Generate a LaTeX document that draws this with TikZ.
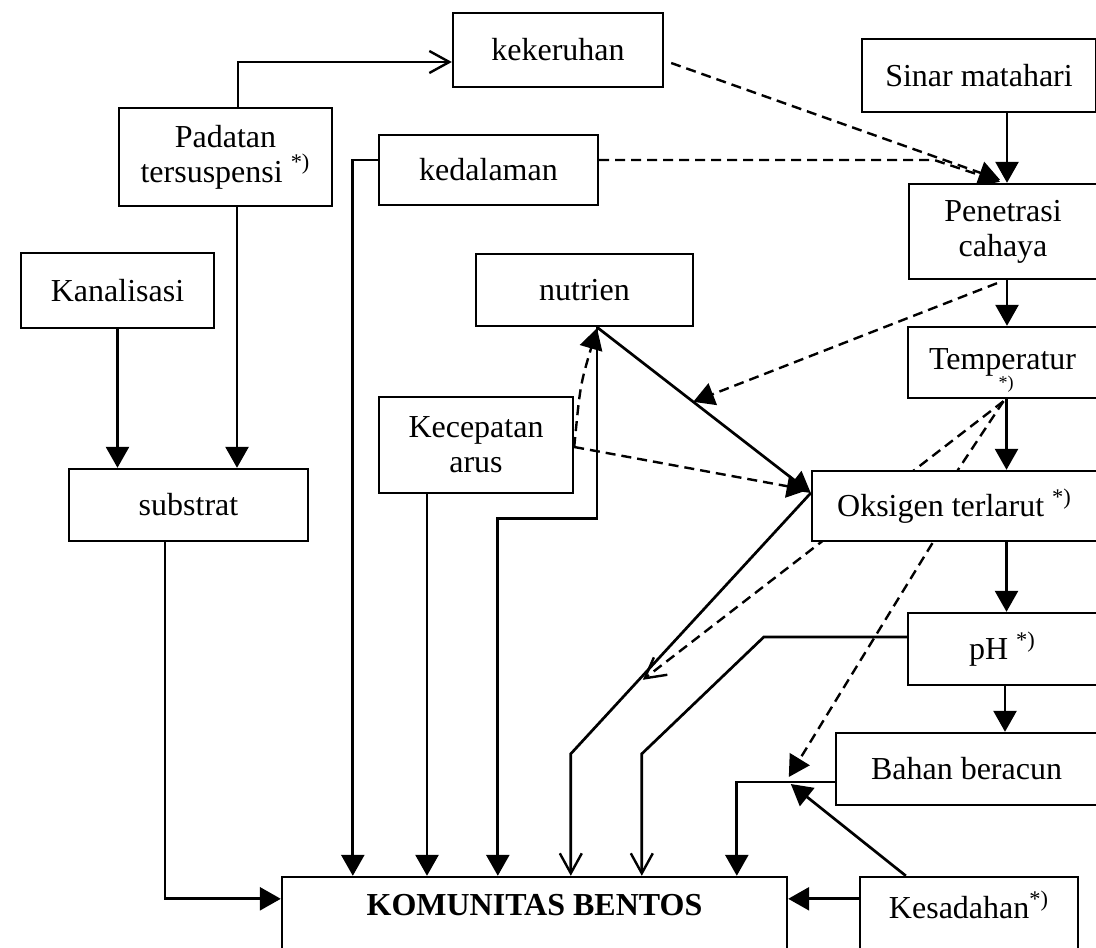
\documentclass[tikz,border=0pt]{standalone}
\usepackage{fontspec}
\setmainfont{Liberation Serif}
\usetikzlibrary{arrows.meta,calc,backgrounds}
\begin{document}
\begin{tikzpicture}[x=0.5pt,y=-0.5pt,
  txt/.style={font=\fontsize{16}{17.5}\selectfont, align=center, inner sep=0pt},
  box/.style={txt, draw, line width=1.2pt, fill=white},
  conn/.style={line width=1.35pt},
  dsh/.style={line width=1.2pt, dash pattern=on 5pt off 3pt},
  fa/.style={-{Triangle[length=10.5pt,width=11.5pt]}},
  oa/.style={-{Straight Barb[length=10pt,width=11pt,line width=1.2pt]}}]
\useasboundingbox (0,0) rectangle (1096,947);

% boxes
\node[box, minimum width=105pt, minimum height=37pt] (kek) at (558,50) {kekeruhan};
\node[box, minimum width=117pt, minimum height=36.5pt] (sinar) at (979,75.5) {Sinar matahari};
\node[box, minimum width=106.5pt, minimum height=49pt] (pad) at (225.5,157) {Padatan\\tersuspensi \textsuperscript{*)}};
\node[box, minimum width=109.5pt, minimum height=35pt] (ked) at (488.5,170) {kedalaman};
\node[box, minimum width=94pt, minimum height=47.5pt] (pen) at (1003,231.5) {Penetrasi\\cahaya};
\node[box, minimum width=96.5pt, minimum height=37.5pt] (kan) at (117.5,290.5) {Kanalisasi};
\node[box, minimum width=108.5pt, minimum height=36pt] (nut) at (584.5,290) {nutrien};
\node[box, minimum width=97pt, minimum height=48pt] (kec) at (476,445) {Kecepatan\\arus};
\node[box, minimum width=119.5pt, minimum height=36pt] (sub) at (188.5,505) {substrat};
\node[box, minimum width=94.5pt, minimum height=35.5pt] (temp) at (1002.5,362.5) {Temperatur};
\node[txt, font=\fontsize{9}{9}\selectfont] (tempst) at (1006,384) {*)};
\node[box, minimum width=142.5pt, minimum height=35pt] (oks) at (954.5,506) {Oksigen terlarut \textsuperscript{*)}};
\node[box, minimum width=94.5pt, minimum height=36pt] (ph) at (1002.5,649) {pH \textsuperscript{*)}};
\node[box, minimum width=130.5pt, minimum height=36pt] (bah) at (966.5,769) {Bahan beracun};
\node[box, minimum width=109pt, minimum height=51.5pt] (kes) at (969,928.5) {};
\node[txt] (kestxt) at (969,905) {Kesadahan\textsuperscript{*)}};
\node[box, minimum width=252.5pt, minimum height=51.5pt] (kom) at (534.5,928.5) {};
\node[txt, font=\fontsize{16}{17.5}\selectfont\bfseries] (komtxt) at (534.5,905) {KOMUNITAS BENTOS};

\begin{scope}[on background layer]
% top left
\draw[conn,oa] ($(pad.north)+(12.5,0)$) |- ($(kek.west)+(0,12)$);
\draw[conn,fa] (pad.south) ++(11.5,0) coordinate (a1) -- (a1 |- sub.north);
\draw[conn,fa] (kan.south) -- (kan.south |- sub.north);
\draw[conn,fa] ($(sub.south)+(-23.5,0)$) |- ($(kom.north west)+(0,23)$);
\draw[conn,fa] ($(ked.west)+(0,-10)$) -| ($(kom.north west)+(72,0)$);
\draw[conn,fa] (kec.south) ++(-49,0) coordinate (a2) -- (a2 |- kom.north);
\draw[conn,fa] ($(nut.south)+(12.5,0)$) -- ++(0,191) -| ($(kom.north west)+(217,0)$);
% nutrien / kecepatan / oksigen
\draw[dsh,fa] ($(kec.east)+(0,2)$) .. controls ($(kec.east)+(6,-60)$) .. ($(nut.south)+(12.5,1)$);
\draw[conn,fa] ($(nut.south)+(12.5,0)$) -- ($(oks.west)+(0,-13)$);
\draw[dsh,fa] ($(kec.east)+(0,2)$) -- ($(oks.west)+(-3,-16)$);
\draw[conn,oa] ($(oks.west)+(0,-13)$) -- ($(kom.north west)+(290,-122)$) -- ($(kom.north west)+(290,0)$);
% light
\draw[dsh,fa] ($(kek.east)+(7,13)$) -- ($(pen.north)+(-3,-3)$);
\draw[dsh,fa] ($(ked.east)+(0,-10)$) -- ++(335,0) -- ($(pen.north)+(-3,-1)$);
\draw[conn,fa] (sinar.south) ++(28,0) coordinate (s1) -- (s1 |- pen.north);
\draw[conn,fa] (pen.south) ++(4,0) coordinate (s2) -- (s2 |- temp.north);
\draw[dsh,fa] ($(pen.south)+(-6,3)$) -- ($($(nut.south)+(12.5,0)$)!0.45!($(oks.west)+(0,-13)$)$);
% right column
\draw[conn,fa] (temp.south) ++(4,0) coordinate (s3) -- (s3 |- oks.north);
\draw[conn,fa] (oks.south) ++(52,0) coordinate (s4) -- (s4 |- ph.north);
\draw[conn,fa] (ph.south) ++(2.5,0) coordinate (s5) -- (s5 |- bah.north);
\draw[dsh,oa] ($(temp.south)+(1,2)$) -- ($(kom.north west)+(362,-196)$);
\draw[dsh,fa] ($(temp.south)+(1,2)$) -- ($(oks.north)+(3.5,0)$) -- ($(oks.south)+(-21.5,0)$) -- ($(bah.west)+(-46,8)$);
% pH, bahan, kesadahan
\draw[conn,oa] ($(ph.west)+(0,-12)$) -- ++(-143,0) -- ($(kom.north west)+(361,-122)$) -- ($(kom.north west)+(361,0)$);
\draw[conn,fa] ($(bah.west)+(0,13)$) -| ($(kom.north west)+(456,0)$);
\draw[conn,fa] ($(kes.north west)+(47,0)$) -- ($(bah.west)+(-44,15)$);
\draw[conn,fa] ($(kes.north west)+(0,23)$) -- ($(kom.north east)+(0,23)$);
\end{scope}
\end{tikzpicture}
\end{document}
